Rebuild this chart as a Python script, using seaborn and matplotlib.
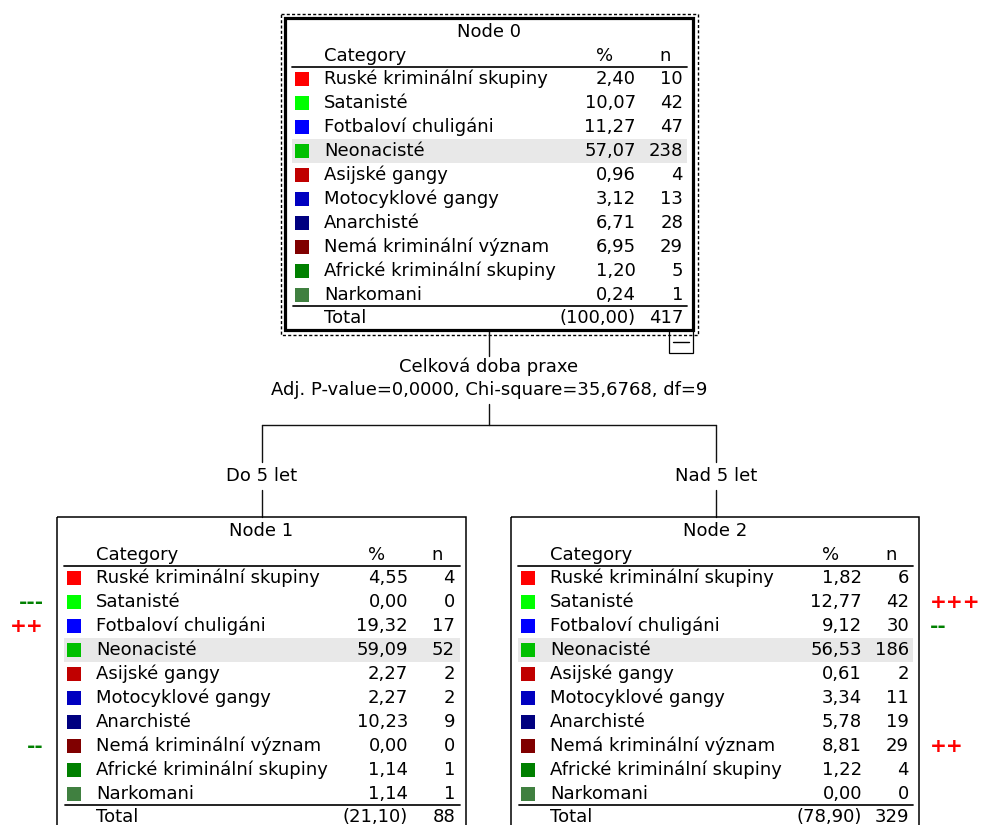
import pandas as pd
import matplotlib
matplotlib.use("Agg")
import matplotlib.pyplot as plt
import seaborn as sns
from matplotlib.patches import Rectangle

categories = ["Ruské kriminální skupiny", "Satanisté", "Fotbaloví chuligáni", "Neonacisté",
              "Asijské gangy", "Motocyklové gangy", "Anarchisté", "Nemá kriminální význam",
              "Africké kriminální skupiny", "Narkomani"]
colors = ["#ff0000", "#00ff00", "#0000ff", "#00c000", "#c00000",
          "#0000c0", "#000080", "#800000", "#008000", "#408040"]

node0_pct = [2.40, 10.07, 11.27, 57.07, 0.96, 3.12, 6.71, 6.95, 1.20, 0.24]
node0_n = [10, 42, 47, 238, 4, 13, 28, 29, 5, 1]
node1_pct = [4.55, 0.00, 19.32, 59.09, 2.27, 2.27, 10.23, 0.00, 1.14, 1.14]
node1_n = [4, 0, 17, 52, 2, 2, 9, 0, 1, 1]
node2_pct = [1.82, 12.77, 9.12, 56.53, 0.61, 3.34, 5.78, 8.81, 1.22, 0.00]
node2_n = [6, 42, 30, 186, 2, 11, 19, 29, 4, 0]
total_pct = [100.00, 21.10, 78.90]
total_n = [417, 88, 329]
node1_signs = ["", "---", "++", "", "", "", "", "--", "", ""]
node2_signs = ["", "+++", "--", "", "", "", "", "++", "", ""]

split_var = "Celková doba praxe"
split_stats = "Adj. P-value=0,0000, Chi-square=35,6768, df=9"
branch_labels = ["Do 5 let", "Nad 5 let"]
modal_idx = 3

sns.set_theme(style="white")
plt.rcParams["font.family"] = ["DejaVu Sans"]
plt.rcParams["text.color"] = "black"
FS = 13
LINE = "#111111"


def fmt(v):
    return f"{v:.2f}".replace(".", ",")


def draw_node(ax, left, top, right, title, pct, n, tpct, tn, thick=False, signs=None, sign_side="left"):
    ax.add_patch(Rectangle((left, top), right - left, 330 if not thick else 312,
                           fill=False, ec="black", lw=2.3 if thick else 1.1, zorder=3))
    ax.text((left + right) / 2, top + 14, title, ha="center", va="center", fontsize=FS)
    ax.text(left + 39, top + 38, "Category", ha="left", va="center", fontsize=FS)
    ax.text(left + 320, top + 38, "%", ha="center", va="center", fontsize=FS)
    ax.text(left + 380, top + 38, "n", ha="center", va="center", fontsize=FS)
    ax.plot([left + 7, right - 6], [top + 49, top + 49], color=LINE, lw=1.3)
    rows = [top + 61 + 24 * i for i in range(len(categories))]
    ax.add_patch(Rectangle((left + 7, rows[modal_idx] - 12), right - left - 13, 24,
                           color="#e8e8e8", lw=0, zorder=0))
    df = pd.DataFrame({"x": [left + 17] * len(categories), "y": rows, "category": categories})
    sns.scatterplot(data=df, x="x", y="y", hue="category", palette=dict(zip(categories, colors)),
                    marker="s", s=95, linewidth=0, legend=False, ax=ax, zorder=4)
    for y, cat, p, k in zip(rows, categories, pct, n):
        ax.text(left + 39, y, cat, ha="left", va="center", fontsize=FS)
        ax.text(left + 351, y, fmt(p), ha="right", va="center", fontsize=FS)
        ax.text(left + 398, y, str(k), ha="right", va="center", fontsize=FS)
    ax.plot([left + 8, right - 6], [top + 288, top + 288], color=LINE, lw=1.3)
    ax.text(left + 39, top + 300, "Total", ha="left", va="center", fontsize=FS)
    ax.text(left + 351, top + 300, f"({fmt(tpct)})", ha="right", va="center", fontsize=FS)
    ax.text(left + 398, top + 300, str(tn), ha="right", va="center", fontsize=FS)
    if signs:
        for y, sg in zip(rows, signs):
            if not sg:
                continue
            col = "#ff0000" if sg.startswith("+") else "#008000"
            if sign_side == "left":
                ax.text(left - 13, y + 1, sg, ha="right", va="center", fontsize=14.5,
                        fontweight="bold", color=col)
            else:
                ax.text(right + 11, y + 1, sg, ha="left", va="center", fontsize=14.5,
                        fontweight="bold", color=col)


fig = plt.figure(figsize=(9.81, 8.25), dpi=100)
ax = fig.add_axes([0, 0, 1, 1])

# root node with selection frame and collapse button
draw_node(ax, 285, 18, 693, "Node 0", node0_pct, node0_n, total_pct[0], total_n[0], thick=True)
ax.add_patch(Rectangle((281, 14), 417, 321, fill=False, ec="black", lw=1.0,
                       linestyle=(0, (2.2, 1.6)), zorder=2))
ax.add_patch(Rectangle((669, 330), 24, 23, fill=False, ec="black", lw=0.9, zorder=3))
ax.plot([673, 689], [342, 342], color="black", lw=1.0)

draw_node(ax, 57, 517, 466, "Node 1", node1_pct, node1_n, total_pct[1], total_n[1],
          signs=node1_signs, sign_side="left")
draw_node(ax, 511, 517, 919, "Node 2", node2_pct, node2_n, total_pct[2], total_n[2],
          signs=node2_signs, sign_side="right")

# connectors and split description
ax.plot([489, 489], [330, 356], color=LINE, lw=1.0)
ax.text(489, 367, split_var, ha="center", va="center", fontsize=FS)
ax.text(489, 390, split_stats, ha="center", va="center", fontsize=FS)
ax.plot([489, 489], [404, 425], color=LINE, lw=1.0)
ax.plot([262, 716], [425, 425], color=LINE, lw=1.0)
for xc, lab in zip([262, 716], branch_labels):
    ax.plot([xc, xc], [425, 462], color=LINE, lw=1.0)
    ax.text(xc, 476, lab, ha="center", va="center", fontsize=FS)
    ax.plot([xc, xc], [490, 517], color=LINE, lw=1.0)

ax.set_xlim(0, 981)
ax.set_ylim(825, 0)
ax.axis("off")
fig.savefig("out.png", dpi=100, facecolor="white")
